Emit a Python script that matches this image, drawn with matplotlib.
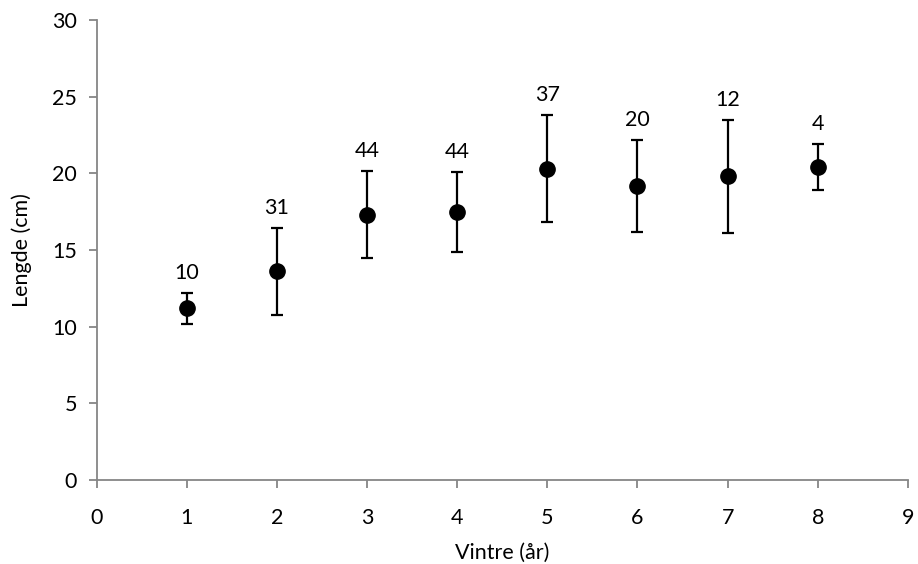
import matplotlib.pyplot as plt

plt.rcParams['font.family'] = ['Lato', 'DejaVu Sans']

vintre = [1, 2, 3, 4, 5, 6, 7, 8]
lengde = [11.2, 13.6, 17.3, 17.5, 20.3, 19.2, 19.8, 20.4]
feil = [1.0, 2.85, 2.85, 2.6, 3.5, 3.0, 3.7, 1.5]
antall = ['10', '31', '44', '44', '37', '20', '12', '4']

grey = '#868686'

fig = plt.figure(figsize=(9.18, 5.64), dpi=100)
ax = fig.add_axes([0.1053, 0.149, 0.8837, 0.8155])

ax.errorbar(vintre, lengde, yerr=feil, fmt='o', color='black', ms=11,
            elinewidth=1.6, capsize=4.5, capthick=1.6)

# antall fisk over hver feilstolpe
for x, y, e, n in zip(vintre, lengde, feil, antall):
    ax.annotate(n, (x, y + e), xytext=(0, 7), textcoords='offset points',
                ha='center', va='bottom', fontsize=15.5)

ax.set_xlim(0, 9)
ax.set_ylim(0, 30)
ax.set_xticks(range(0, 10))
ax.set_yticks(range(0, 31, 5))

for side in ['top', 'right']:
    ax.spines[side].set_visible(False)
for side in ['left', 'bottom']:
    ax.spines[side].set_color(grey)
    ax.spines[side].set_linewidth(1.3)
ax.tick_params(colors=grey, labelcolor='black', labelsize=15.5, length=6,
               width=1.3, direction='out')
ax.tick_params(axis='x', pad=14)
ax.tick_params(axis='y', pad=8)

ax.set_xlabel('Vintre (år)', fontsize=15.5, labelpad=11)
ax.set_ylabel('Lengde (cm)', fontsize=15.5, labelpad=15)

fig.savefig('out.png', dpi=100)
